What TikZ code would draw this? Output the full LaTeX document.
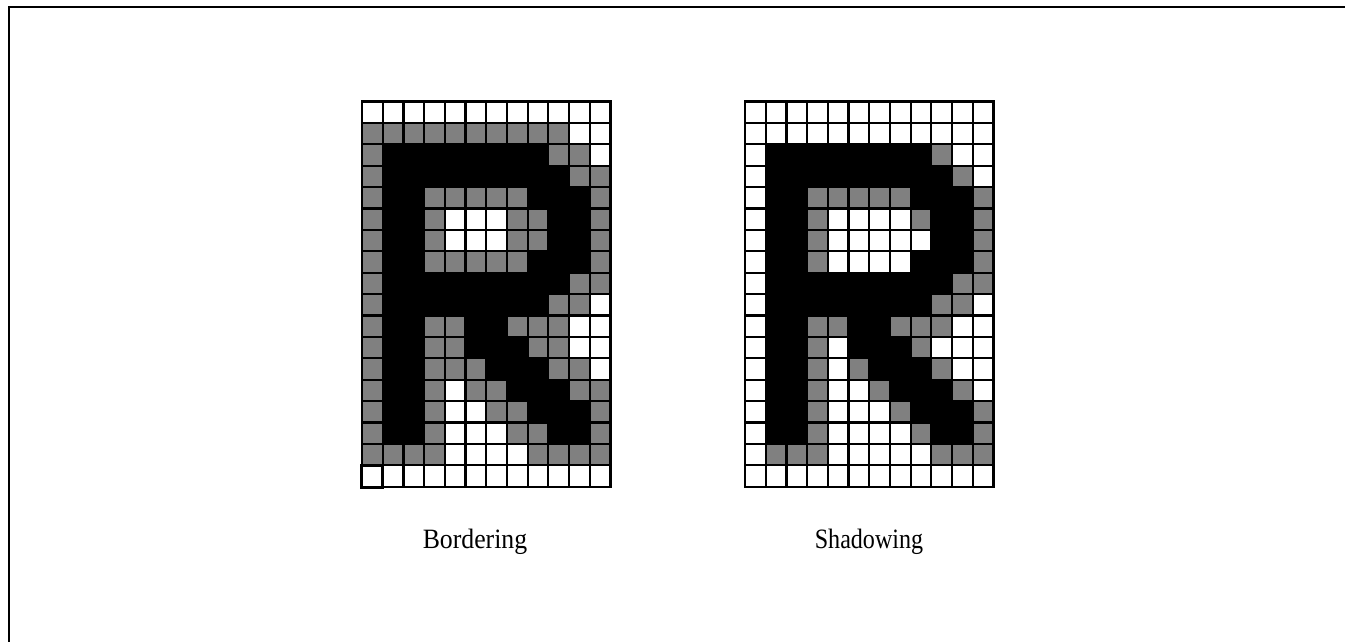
\documentclass[tikz,border=0pt]{standalone}
\usepackage{fontspec}
\usepackage{graphicx}
\newfontfamily\labelfont{Liberation Serif}
\definecolor{c0}{RGB}{255,255,255}
\definecolor{c1}{RGB}{128,128,128}
\definecolor{c2}{RGB}{0,0,0}
\begin{document}
\begin{tikzpicture}[x=1pt,y=-1pt,
  cell/.style={draw=black,line width=2.2pt},
  caption/.style={font=\labelfont\fontsize{28}{30}\selectfont, anchor=base, inner sep=0pt},
  frameline/.style={line width=2pt, line cap=rect}]
\useasboundingbox (0,0) rectangle (1345,642);
% outer frame (cut at right and bottom)
\draw[frameline] (9,642) -- (9,7.5) -- (1345,7.5);
% Bordering grid
\foreach \rowv [count=\r from 0] in {
  {0,0,0,0,0,0,0,0,0,0,0,0},
  {1,1,1,1,1,1,1,1,1,1,0,0},
  {1,2,2,2,2,2,2,2,2,1,1,0},
  {1,2,2,2,2,2,2,2,2,2,1,1},
  {1,2,2,1,1,1,1,1,2,2,2,1},
  {1,2,2,1,0,0,0,1,1,2,2,1},
  {1,2,2,1,0,0,0,1,1,2,2,1},
  {1,2,2,1,1,1,1,1,2,2,2,1},
  {1,2,2,2,2,2,2,2,2,2,1,1},
  {1,2,2,2,2,2,2,2,2,1,1,0},
  {1,2,2,1,1,2,2,1,1,1,0,0},
  {1,2,2,1,1,2,2,2,1,1,0,0},
  {1,2,2,1,1,1,2,2,2,1,1,0},
  {1,2,2,1,0,1,1,2,2,2,1,1},
  {1,2,2,1,0,0,1,1,2,2,2,1},
  {1,2,2,1,0,0,0,1,1,2,2,1},
  {1,1,1,1,0,0,0,0,1,1,1,1},
  {0,0,0,0,0,0,0,0,0,0,0,0}}{
  \foreach \v [count=\c from 0] in \rowv {
    \draw[cell, fill=c\v] ({362+\c*20.7},{101.5+\r*21.4}) rectangle ++(20.7,21.4);
  }
}
\draw[line width=3pt] (361.5,465.8) rectangle (382.7,487.3);
% Shadowing grid
\foreach \rowv [count=\r from 0] in {
  {0,0,0,0,0,0,0,0,0,0,0,0},
  {0,0,0,0,0,0,0,0,0,0,0,0},
  {0,2,2,2,2,2,2,2,2,1,0,0},
  {0,2,2,2,2,2,2,2,2,2,1,0},
  {0,2,2,1,1,1,1,1,2,2,2,1},
  {0,2,2,1,0,0,0,0,1,2,2,1},
  {0,2,2,1,0,0,0,0,0,2,2,1},
  {0,2,2,1,0,0,0,0,2,2,2,1},
  {0,2,2,2,2,2,2,2,2,2,1,1},
  {0,2,2,2,2,2,2,2,2,1,1,0},
  {0,2,2,1,1,2,2,1,1,1,0,0},
  {0,2,2,1,0,2,2,2,1,0,0,0},
  {0,2,2,1,0,1,2,2,2,1,0,0},
  {0,2,2,1,0,0,1,2,2,2,1,0},
  {0,2,2,1,0,0,0,1,2,2,2,1},
  {0,2,2,1,0,0,0,0,1,2,2,1},
  {0,1,1,1,0,0,0,0,0,1,1,1},
  {0,0,0,0,0,0,0,0,0,0,0,0}}{
  \foreach \v [count=\c from 0] in \rowv {
    \draw[cell, fill=c\v] ({745+\c*20.7},{101.5+\r*21.4}) rectangle ++(20.7,21.4);
  }
}
% captions
\node[caption] (bordering) at (475,548) {\scalebox{0.92}[1]{Bordering}};
\node[caption] (shadowing) at (869,548) {\scalebox{0.86}[1]{Shadowing}};
\end{tikzpicture}
\end{document}
